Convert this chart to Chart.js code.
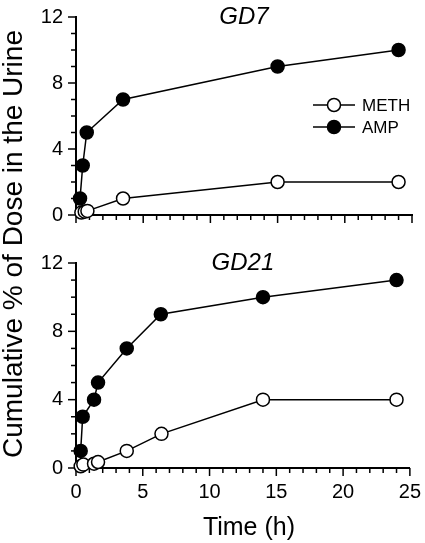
<!DOCTYPE html>
<html lang="en">
<head>
  <meta charset="UTF-8">
  <title>Cumulative urinary excretion</title>
  <script src="https://cdn.jsdelivr.net/npm/chart.js"></script>
  <style>
    body { margin: 0; padding: 0; background: #fff; font-family: 'Liberation Sans', Arial, sans-serif; }
    #wrap { position: relative; width: 425px; height: 543px; overflow: hidden; }
    .panel { position: absolute; left: 0; width: 425px; }
    #top { top: 0; height: 240px; }
    #bottom { top: 240px; height: 303px; }
    #ytitle { position: absolute; left: 13px; top: 244px; transform: translate(-50%, -50%) rotate(-90deg); white-space: nowrap; font-size: 28px; color: #000; }
  </style>
</head>
<body>
  <div id="wrap">
    <div class="panel" id="top"><canvas id="gd7"></canvas></div>
    <div class="panel" id="bottom"><canvas id="gd21"></canvas></div>
    <div id="ytitle">Cumulative % of Dose in the Urine</div>
  </div>

  <script>
    // GD7 panel
    const gd7AmpTime  = [0.3, 0.5, 0.8, 3.5, 15, 24];
    const gd7Amp      = [1, 3, 5, 7, 9, 10];
    const gd7MethTime = [0.4, 0.65, 0.85, 3.5, 15, 24];
    const gd7Meth     = [0.15, 0.2, 0.25, 1, 2, 2];

    // GD21 panel
    const gd21AmpTime  = [0.35, 0.5, 1.35, 1.65, 3.8, 6.35, 14, 24];
    const gd21Amp      = [1, 3, 4, 5, 7, 9, 10, 11];
    const gd21MethTime = [0.35, 0.55, 1.35, 1.65, 3.8, 6.4, 14, 24];
    const gd21Meth     = [0.1, 0.2, 0.25, 0.35, 1, 2, 4, 4];

    const xTickLabels = ['0', '5', '10', '15', '20', '25'];
    const yTickLabels = ['0', '4', '8', '12'];

    const FONT = "'Liberation Sans', Arial, sans-serif";

    function pts(xs, ys) { return xs.map((x, i) => ({ x: x, y: ys[i] })); }

    function series(label, xs, ys, filled) {
      return {
        label: label,
        data: pts(xs, ys),
        borderColor: '#000',
        borderWidth: 1.5,
        backgroundColor: filled ? '#000' : '#fff',
        pointBackgroundColor: filled ? '#000' : '#fff',
        pointBorderColor: '#000',
        pointBorderWidth: 1.5,
        pointRadius: 6.5,
        tension: 0,
        clip: false
      };
    }

    // tick marks: long at labelled values, short elsewhere
    const tickMarks = {
      id: 'tickMarks',
      beforeDatasetsDraw(chart) {
        const ctx = chart.ctx;
        const xs = chart.scales.x, ys = chart.scales.y;
        ctx.save();
        ctx.strokeStyle = '#000';
        ctx.lineWidth = 1.5;
        xs.ticks.forEach(t => {
          const px = xs.getPixelForValue(t.value);
          const len = xTickLabels.includes(String(t.value)) ? 8 : 5;
          ctx.beginPath(); ctx.moveTo(px, xs.top); ctx.lineTo(px, xs.top + len); ctx.stroke();
        });
        ys.ticks.forEach(t => {
          const py = ys.getPixelForValue(t.value);
          const len = yTickLabels.includes(String(t.value)) ? 8 : 5;
          ctx.beginPath(); ctx.moveTo(ys.right, py); ctx.lineTo(ys.right - len, py); ctx.stroke();
        });
        ctx.restore();
      }
    };

    const panelTitle = {
      id: 'panelTitle',
      afterDraw(chart, args, opts) {
        const ctx = chart.ctx, a = chart.chartArea;
        ctx.save();
        ctx.font = 'italic 24px ' + FONT;
        ctx.fillStyle = '#000';
        ctx.textAlign = 'center';
        ctx.textBaseline = 'middle';
        ctx.fillText(opts.text, (a.left + a.right) / 2, a.top + (opts.dy || 0));
        if (opts.xTitle) {
          // axis title, a little right of the plot centre as in the original
          ctx.font = '25px ' + FONT;
          ctx.fillText(opts.xTitle, (a.left + a.right) / 2 + 6, chart.height - 15);
        }
        ctx.restore();
      }
    };

    // line + marker legend inside the plot
    const lineLegend = {
      id: 'lineLegend',
      afterDraw(chart, args, opts) {
        if (!opts.show) return;
        const ctx = chart.ctx;
        ctx.save();
        chart.data.datasets.forEach((ds, i) => {
          const y = opts.y + i * opts.gap;
          ctx.strokeStyle = '#000';
          ctx.lineWidth = 1.5;
          ctx.beginPath(); ctx.moveTo(opts.x, y); ctx.lineTo(opts.x + 42, y); ctx.stroke();
          ctx.beginPath(); ctx.arc(opts.x + 21, y, 6.5, 0, Math.PI * 2);
          ctx.fillStyle = ds.pointBackgroundColor; ctx.fill(); ctx.stroke();
          ctx.fillStyle = '#000';
          ctx.font = '17px ' + FONT;
          ctx.textAlign = 'left';
          ctx.textBaseline = 'middle';
          ctx.fillText(ds.label, opts.x + 49, y + 1);
        });
        ctx.restore();
      }
    };

    function makeChart(id, datasets, o) {
      return new Chart(document.getElementById(id), {
        type: 'line',
        data: { datasets: datasets },
        plugins: [tickMarks, panelTitle, lineLegend],
        options: {
          responsive: true,
          maintainAspectRatio: false,
          animation: false,
          layout: { padding: { left: 0, right: 13, top: o.padTop, bottom: 0 } },
          plugins: {
            legend: { display: false },
            tooltip: { enabled: false },
            panelTitle: { text: o.title, xTitle: o.xLabels ? 'Time (h)' : '' },
            lineLegend: { show: o.legend, x: 313, y: 105, gap: 22 }
          },
          scales: {
            x: {
              type: 'linear', min: 0, max: 25,
              afterFit: s => { s.height = o.xHeight; },
              grid: { display: false, drawTicks: true, tickLength: 8 },
              border: { display: true, color: '#000', width: 2 },
              ticks: {
                stepSize: 1, autoSkip: false, maxRotation: 0, padding: 4,
                color: '#000', font: { family: FONT, size: 20 },
                callback: v => (o.xLabels && xTickLabels.includes(String(v))) ? String(v) : ''
              }
            },
            y: {
              type: 'linear', min: 0, max: 12,
              afterFit: s => { s.width = 76; },
              grid: { display: false, drawTicks: true, tickLength: 8 },
              border: { display: true, color: '#000', width: 2 },
              ticks: {
                stepSize: 1, autoSkip: false, padding: 5,
                color: '#000', font: { family: FONT, size: 20 },
                callback: v => yTickLabels.includes(String(v)) ? String(v) : ''
              }
            }
          }
        }
      });
    }

    makeChart('gd7', [
      series('METH', gd7MethTime, gd7Meth, false),
      series('AMP', gd7AmpTime, gd7Amp, true)
    ], { title: 'GD7', padTop: 13, xHeight: 25, xLabels: false, legend: true });

    makeChart('gd21', [
      series('METH', gd21MethTime, gd21Meth, false),
      series('AMP', gd21AmpTime, gd21Amp, true)
    ], { title: 'GD21', padTop: 23, xHeight: 75, xLabels: true, legend: false });
  </script>
</body>
</html>
